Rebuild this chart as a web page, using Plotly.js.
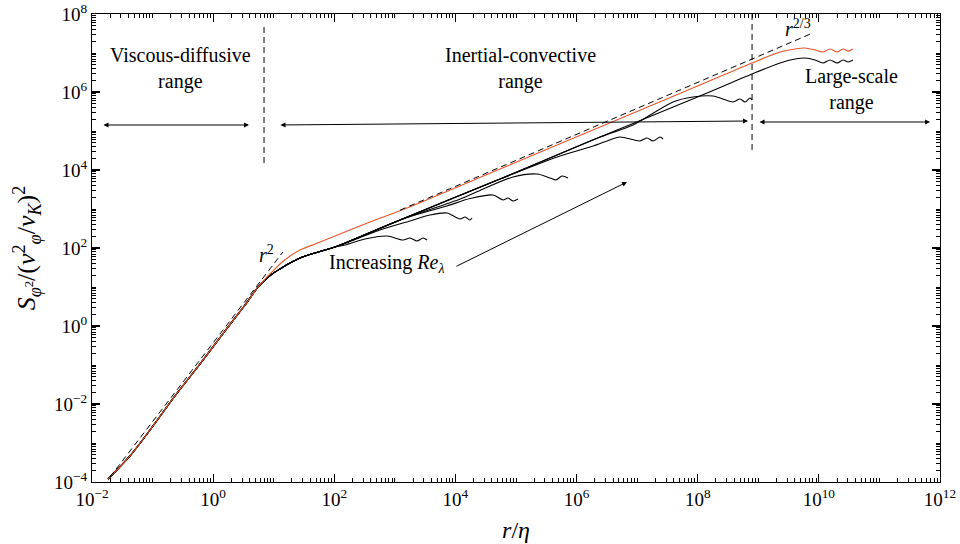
<!DOCTYPE html>
<html><head><meta charset="utf-8">
<script src="https://cdn.plot.ly/plotly-3.0.1.min.js"></script>
<style>body{margin:0;background:#fff}#chart{width:960px;height:544px}</style>
</head><body><div id="chart"></div>
<script>
// shared black envelope (dissipative + inertial range)
const envR = [1.84e-2, 4.24e-2, 9.08e-2, 0.234, 0.607, 1.57, 3.36, 5.51, 7.18, 9.38, 12.7, 18.6, 27.2, 48.1, 103, 1216, 5.45e4, 2.44e6, 1.09e8, 7.89e8, 2.29e9];
const envS = [1.19e-4, 4.65e-4, 2.15e-3, 1.60e-2, 0.106, 0.745, 3.45, 10.0, 15.1, 21.5, 29.0, 41.2, 55.5, 74.5, 106, 522, 5875, 7.01e4, 7.89e5, 2.90e6, 5.55e6];
// large-scale tails of each black curve (increasing Re)
const tail1R = [150, 321, 741, 1365, 1778, 2323, 2917, 3396];
const tail1S = [119, 170, 203, 160, 180, 151, 180, 160];
const tail2R = [569, 1778, 3800, 7260, 1.19e4, 1.44e4, 1.74e4, 1.88e4];
const tail2S = [290, 492, 701, 789, 555, 624, 522, 587];
const tail3R = [2900, 7260, 1.74e4, 4.17e4, 6.11e4, 7.38e4, 8.93e4, 1.08e5];
const tail3S = [800, 1200, 1850, 2285, 1702, 1915, 1604, 1803];
const tail4R = [1.2e4, 2.55e4, 8.93e4, 2.22e5, 3.65e5, 4.58e5, 5.75e5, 7.23e5];
const tail4S = [1800, 3000, 6622, 7890, 6237, 5546, 7015, 6237];
const tail5R = [5.33e5, 1.67e6, 3.18e6, 5.21e6, 1.11e7, 1.46e7, 1.83e7, 2.39e7, 2.67e7];
const tail5S = [2.29e4, 3.89e4, 5.55e4, 7.01e4, 5.55e4, 6.62e4, 5.55e4, 7.01e4, 6.24e4];
const tail6R = [8.55e6, 3.91e7, 8.36e7, 1.79e8, 3.83e8, 4.99e8, 6.04e8, 7.31e8, 7.89e8];
const tail6S = [1.43e5, 5.55e5, 7.45e5, 7.89e5, 5.55e5, 6.62e5, 5.55e5, 7.02e5, 6.24e5];
const tail7R = [4.05e9, 5.92e9, 8.65e9, 1.17e10, 1.53e10, 2.00e10, 2.51e10, 3.03e10, 3.66e10];
const tail7S = [7.02e6, 7.45e6, 6.62e6, 5.55e6, 6.62e6, 5.55e6, 6.62e6, 5.87e6, 6.62e6];
// orange (highest Re) curve
const orR = [1.84e-2, 4.24e-2, 9.08e-2, 0.234, 0.607, 1.57, 3.36, 5.51, 7.18, 9.38, 12.7, 18.6, 27.2, 48.1, 103, 389, 1589, 5.45e4, 2.44e6, 1.09e8, 7.89e8, 2.29e9, 4.05e9, 5.92e9, 8.65e9, 1.17e10, 1.53e10, 2.00e10, 2.51e10, 3.03e10, 3.66e10];
const orS = [1.19e-4, 4.65e-4, 2.15e-3, 1.60e-2, 0.106, 0.745, 3.45, 10.0, 16.0, 24.3, 38.9, 62.4, 88.9, 127, 203, 465, 1062, 1.06e4, 1.27e5, 1.51e6, 5.55e6, 1.06e7, 1.27e7, 1.34e7, 1.19e7, 1.06e7, 1.27e7, 1.06e7, 1.27e7, 1.12e7, 1.27e7];
// power-law guides
const r2R = [1.98e-2, 14.2], r2S = [1.34e-4, 78.9];
const r23R = [1216, 7.94e9], r23S = [933, 3.26e7];
// range boundaries
const bound1R = [6.92, 6.92], bound1S = [1.51e4, 5.88e7];
const bound2R = [7.89e8, 7.89e8], bound2S = [3.26e4, 1e8];
// tick labels
const xMajorExp = [-2, 0, 2, 4, 6, 8, 10, 12];
const yMajorExp = [-4, -2, 0, 2, 4, 6, 8];

const FONT = '"Liberation Serif", "DejaVu Serif", serif';
const tails = [[tail1R, tail1S], [tail2R, tail2S], [tail3R, tail3S], [tail4R, tail4S], [tail5R, tail5S], [tail6R, tail6S], [tail7R, tail7S]];
const traces = [];
tails.forEach(([tr, ts]) => {
  const x = [], y = [];
  envR.forEach((r, i) => { if (r < tr[0]) { x.push(r); y.push(envS[i]); } });
  traces.push({x: x.concat(tr), y: y.concat(ts), mode: 'lines', line: {color: '#000', width: 1.1, shape: 'spline', smoothing: 0.8}, hoverinfo: 'skip'});
});
traces.push({x: orR, y: orS, mode: 'lines', line: {color: '#e4572a', width: 1.1, shape: 'spline', smoothing: 0.8}});
const dashLine = {color: '#000', width: 1, dash: '6px,4px'};
traces.push({x: r2R, y: r2S, mode: 'lines', line: dashLine});
traces.push({x: r23R, y: r23S, mode: 'lines', line: dashLine});
traces.push({x: bound1R, y: bound1S, mode: 'lines', line: dashLine});
traces.push({x: bound2R, y: bound2S, mode: 'lines', line: dashLine});

const lab = p => '10<sup>' + (p < 0 ? '\u2212' + (-p) : p) + '</sup>';
function minorVals(lo, hi) {
  const v = [];
  for (let p = lo; p < hi; p++) {
    if (p % 2 !== 0) v.push(Math.pow(10, p));
    for (let k = 2; k <= 9; k++) v.push(k * Math.pow(10, p));
  }
  return v;
}
const axBase = {
  type: 'log', showline: true, linecolor: '#000', linewidth: 1, mirror: 'allticks',
  ticks: 'inside', ticklen: 8, tickwidth: 1.2, tickcolor: '#000', showgrid: false, zeroline: false,
  tickfont: {family: FONT, size: 19, color: '#000'}, tickmode: 'array'
};
const layout = {
  width: 960, height: 544, margin: {l: 92, r: 20, t: 14, b: 62},
  paper_bgcolor: '#fff', plot_bgcolor: '#fff', showlegend: false,
  font: {family: FONT, color: '#000'},
  xaxis: Object.assign({}, axBase, {
    range: [-2, 12],
    tickvals: xMajorExp.map(p => Math.pow(10, p)), ticktext: xMajorExp.map(lab),
    minor: {tickmode: 'array', tickvals: minorVals(-2, 12), ticks: 'inside', ticklen: 4, tickwidth: 1, tickcolor: '#000', showgrid: false},
    title: {text: '<i>r</i>/<i>η</i>', font: {family: FONT, size: 24, color: '#000'}, standoff: 12}
  }),
  yaxis: Object.assign({}, axBase, {
    range: [-4, 8],
    tickvals: yMajorExp.map(p => Math.pow(10, p)), ticktext: yMajorExp.map(lab),
    minor: {tickmode: 'array', tickvals: minorVals(-4, 8), ticks: 'inside', ticklen: 4, tickwidth: 1, tickcolor: '#000', showgrid: false},
    title: {text: '<i>S</i><sub><i>φ</i><sup>2</sup></sub>/(<i>v</i><sup>2</sup><sub><i>φ</i></sub>/<i>v</i><sub><i>K</i></sub>)<sup>2</sup>', font: {family: FONT, size: 26, color: '#000'}, standoff: 10}
  }),
  annotations: []
};
const txt = (t, x, y, size) => ({text: t, x: x, y: y, xref: 'x', yref: 'y', showarrow: false, font: {family: FONT, size: size || 20, color: '#000'}});
const arr = (x, y, ax, ay, both) => ({text: '', x: x, y: y, ax: ax, ay: ay, xref: 'x', yref: 'y', axref: 'x', ayref: 'y', showarrow: true, arrowhead: 2, startarrowhead: 2, arrowside: both ? 'end+start' : 'end', arrowsize: 1, startarrowsize: 1, arrowwidth: 1, arrowcolor: '#000'});
layout.annotations.push(
  txt('Viscous-diffusive<br>range', -0.547, 6.59),
  txt('Inertial-convective<br>range', 5.066, 6.615),
  txt('Large-scale<br>range', 10.531, 6.077),
  txt('Increasing <i>Re</i><sub><i>λ</i></sub>', 2.854, 1.6),
  txt('<i>r</i><sup>2</sup>', 0.889, 1.85),
  txt('<i>r</i><sup>2/3</sup>', 9.656, 7.64),
  arr(0.592, 5.154, -1.835, 5.154, true),
  arr(8.830, 5.256, 1.087, 5.154, true),
  arr(11.836, 5.231, 8.996, 5.231, true),
  arr(6.833, 3.692, 3.993, 1.513, false)
);
Plotly.newPlot('chart', traces, layout, {staticPlot: true});
</script></body></html>
